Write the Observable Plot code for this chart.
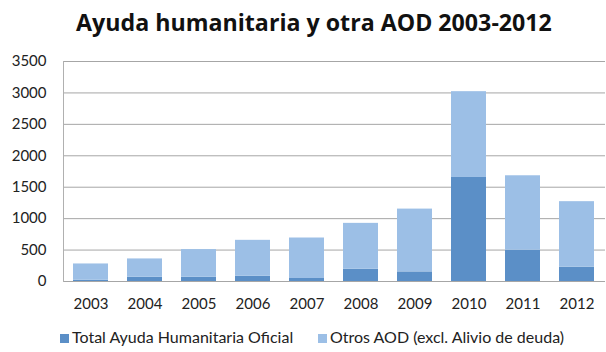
<!DOCTYPE html>
<html><head><meta charset="utf-8">
<script src="https://cdn.jsdelivr.net/npm/d3@7"></script>
<script src="https://cdn.jsdelivr.net/npm/@observablehq/plot@0.6"></script>
<style>
body{margin:0;background:#fff;width:606px;height:352px;overflow:hidden;font-family:Lato,"Open Sans",sans-serif;}
#wrap{position:relative;width:606px;height:352px;}
#title{position:absolute;left:0;top:0;width:606px;height:44px;text-align:center;font-weight:bold;font-size:23.2px;line-height:44px;color:#111;padding-left:22px;box-sizing:border-box;font-family:"Open Sans",sans-serif;}
#chart{position:absolute;left:0;top:44px;}
.leg{position:absolute;top:328px;font-size:16px;color:#222;white-space:nowrap;line-height:18px;}
.sw{display:inline-block;width:9px;height:9px;margin-right:3px;vertical-align:0px;}
</style></head>
<body><div id="wrap"><div id="title">Ayuda humanitaria y otra AOD 2003-2012</div><div id="chart"></div></div>
<script>
const years = ["2003","2004","2005","2006","2007","2008","2009","2010","2011","2012"];
const humanitaria = [20, 68, 68, 84, 48, 195, 153, 1655, 497, 227];
const otros = [259, 291, 440, 571, 644, 730, 999, 1365, 1185, 1043];
const seriesNames = ["Total Ayuda Humanitaria Oficial", "Otros AOD (excl. Alivio de deuda)"];
const seriesColors = ["#5b8fc7", "#9cbfe6"];
const yTicks = [0, 500, 1000, 1500, 2000, 2500, 3000, 3500];

const rows = [];
years.forEach((y, i) => {
  rows.push({year: y, serie: seriesNames[0], value: humanitaria[i]});
  rows.push({year: y, serie: seriesNames[1], value: otros[i]});
});

const chart = Plot.plot({
  width: 606, height: 272,
  marginLeft: 63, marginRight: 1, marginTop: 17, marginBottom: 35,
  style: {fontFamily: "Lato, 'Open Sans', sans-serif", fontSize: "15px", color: "#222", background: "transparent"},
  x: {domain: years, paddingInner: 0.35, paddingOuter: 0.175, label: null},
  y: {domain: [0, 3500], label: null},
  color: {domain: seriesNames, range: seriesColors},
  marks: [
    Plot.ruleY(yTicks, {stroke: "#a6a6a6", strokeWidth: 1}),
    Plot.frame({anchor: "left", stroke: "#b0b0b0"}),
    Plot.barY(rows, Plot.stackY({x: "year", y: "value", fill: "serie", order: seriesNames})),
    Plot.axisX({tickSize: 0, tickPadding: 17, label: null}),
    Plot.axisY({ticks: yTicks, tickSize: 0, tickPadding: 17, tickFormat: d => String(d), label: null})
  ]
});
document.getElementById("chart").appendChild(chart);

const wrap = document.getElementById("wrap");
const legX = [60, 318];
seriesNames.forEach((n, i) => {
  const d = document.createElement("div");
  d.className = "leg";
  d.style.left = legX[i] + "px";
  d.innerHTML = `<span class="sw" style="background:${seriesColors[i]}"></span>${n}`;
  wrap.appendChild(d);
});
</script></body></html>
